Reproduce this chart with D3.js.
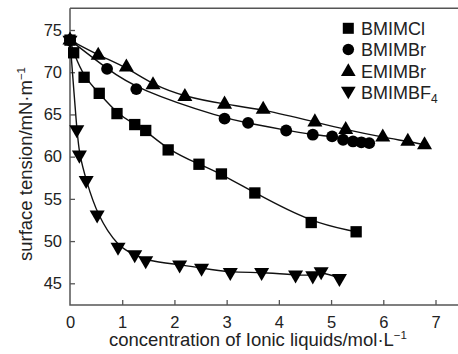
<!DOCTYPE html>
<html><head><meta charset="utf-8">
<script src="https://cdn.jsdelivr.net/npm/d3@7"></script>
<style>body{margin:0;background:#fff}svg{display:block}text{font-family:"Liberation Sans",Arial,sans-serif;fill:#222}</style>
</head><body>
<svg id="c" width="458" height="354"></svg>
<script>
const seriesNames = ["BMIMCl", "BMIMBr", "EMIMBr", "BMIMBF4"];
const bmimclX = [0, 0.07, 0.27, 0.56, 0.90, 1.24, 1.45, 1.88, 2.47, 2.90, 3.54, 4.62, 5.48];
const bmimclY = [73.8, 72.3, 69.4, 67.5, 65.1, 63.8, 63.1, 60.8, 59.1, 57.95, 55.7, 52.2, 51.1];
const bmimbrX = [0, 0.71, 1.27, 2.96, 3.41, 4.14, 4.65, 5.02, 5.23, 5.42, 5.58, 5.73];
const bmimbrY = [73.8, 70.4, 68.0, 64.5, 64.0, 63.1, 62.6, 62.4, 62.0, 61.8, 61.7, 61.6];
const emimbrX = [0, 0.54, 1.08, 1.59, 2.20, 2.96, 3.70, 4.69, 5.28, 5.99, 6.47, 6.79];
const emimbrY = [73.8, 72.0, 70.6, 68.5, 67.1, 66.2, 65.6, 64.1, 63.2, 62.3, 61.8, 61.4];
const bmimbf4X = [0, 0.13, 0.18, 0.31, 0.52, 0.92, 1.24, 1.45, 2.10, 2.52, 3.07, 3.67, 4.32, 4.65, 4.81, 5.16];
const bmimbf4Y = [73.8, 63.2, 60.2, 57.2, 53.1, 49.3, 48.4, 47.7, 47.2, 46.8, 46.3, 46.3, 46.0, 45.9, 46.4, 45.6];
const xTicks = [0, 1, 2, 3, 4, 5, 6, 7];
const yTicks = [45, 50, 55, 60, 65, 70, 75];

const svg = d3.select("#c");
const L = 70, R = 459, T = 8.3, B = 305;
const x = d3.scaleLinear().domain([0, 7.45]).range([L, R]);
const y = d3.scaleLinear().domain([42.43, 77.57]).range([B, T]);
const axisCol = "#555";

// axes
const gx = svg.append("g").attr("transform", `translate(0,${B})`)
  .call(d3.axisBottom(x).tickValues(xTicks).tickSize(-5).tickPadding(11).tickFormat(d3.format("d")));
const gy = svg.append("g").attr("transform", `translate(${L},0)`)
  .call(d3.axisLeft(y).tickValues(yTicks).tickSize(-5).tickPadding(8).tickFormat(d3.format("d")));
[gx, gy].forEach(g => {
  g.select(".domain").remove();
  g.selectAll(".tick line").attr("stroke", axisCol).attr("stroke-width", 1.3);
  g.selectAll(".tick text").attr("font-size", 16.5).attr("fill", "#222")
   .attr("font-family", "Liberation Sans, Arial, sans-serif");
});
gx.selectAll(".tick").filter(d => d === 0).select("line").remove();
svg.append("path").attr("d", `M${L},${T}V${B}H${R}`).attr("fill", "none").attr("stroke", axisCol).attr("stroke-width", 1.5);
svg.append("line").attr("x1", L).attr("x2", R).attr("y1", T).attr("y2", T).attr("stroke", axisCol).attr("stroke-width", 1.5);

// axis titles
const xt = svg.append("text").attr("x", 258).attr("y", 346).attr("text-anchor", "middle").attr("font-size", 18.5);
xt.append("tspan").text("concentration of Ionic liquids/mol·L");
xt.append("tspan").text("−1").attr("font-size", 11.5).attr("dy", -7);
const yt = svg.append("text").attr("transform", `translate(32,${164}) rotate(-90)`).attr("text-anchor", "middle").attr("font-size", 18.5);
yt.append("tspan").text("surface tension/mN·m");
yt.append("tspan").text("−1").attr("font-size", 11.5).attr("dy", -7);

// series
const symbols = [
  {type: d3.symbolSquare, size: 128, rot: 0},
  {type: d3.symbolCircle, size: 110, rot: 0},
  {type: d3.symbolTriangle, size: 98, rot: 0},
  {type: d3.symbolTriangle, size: 98, rot: 180}
];
const series = [
  {name: seriesNames[0], xs: bmimclX, ys: bmimclY},
  {name: seriesNames[1], xs: bmimbrX, ys: bmimbrY},
  {name: seriesNames[2], xs: emimbrX, ys: emimbrY},
  {name: seriesNames[3], xs: bmimbf4X, ys: bmimbf4Y}
];
const line = d3.line().x(d => x(d[0])).y(d => y(d[1])).curve(d3.curveBasis);
series.forEach(s => {
  const pts = s.xs.map((v, i) => [v, s.ys[i]]);
  svg.append("path").attr("d", line(pts)).attr("fill", "none").attr("stroke", "#111").attr("stroke-width", 1.4);
});
series.forEach((s, k) => {
  const sym = symbols[k];
  const path = d3.symbol().type(sym.type).size(sym.size)();
  svg.append("g").selectAll("path").data(s.xs.map((v, i) => [v, s.ys[i]])).join("path")
    .attr("d", path).attr("fill", "#000")
    .attr("transform", d => `translate(${x(d[0])},${y(d[1])}) rotate(${sym.rot})`);
});

// legend
const lg = svg.append("g");
series.forEach((s, k) => {
  const sym = symbols[k];
  const cy = 28.3 + k * 21.2;
  lg.append("path").attr("d", d3.symbol().type(sym.type).size(sym.size * 0.95)())
    .attr("fill", "#000").attr("transform", `translate(348.3,${cy + (k === 2 ? 1 : k === 3 ? -1 : 0)}) rotate(${sym.rot})`);
  const t = lg.append("text").attr("x", 361).attr("y", cy + 6.8).attr("font-size", 18);
  if (s.name === "BMIMBF4") {
    t.append("tspan").text("BMIMBF");
    t.append("tspan").text("4").attr("font-size", 12).attr("dy", 4);
  } else t.text(s.name);
});
</script>
</body></html>
